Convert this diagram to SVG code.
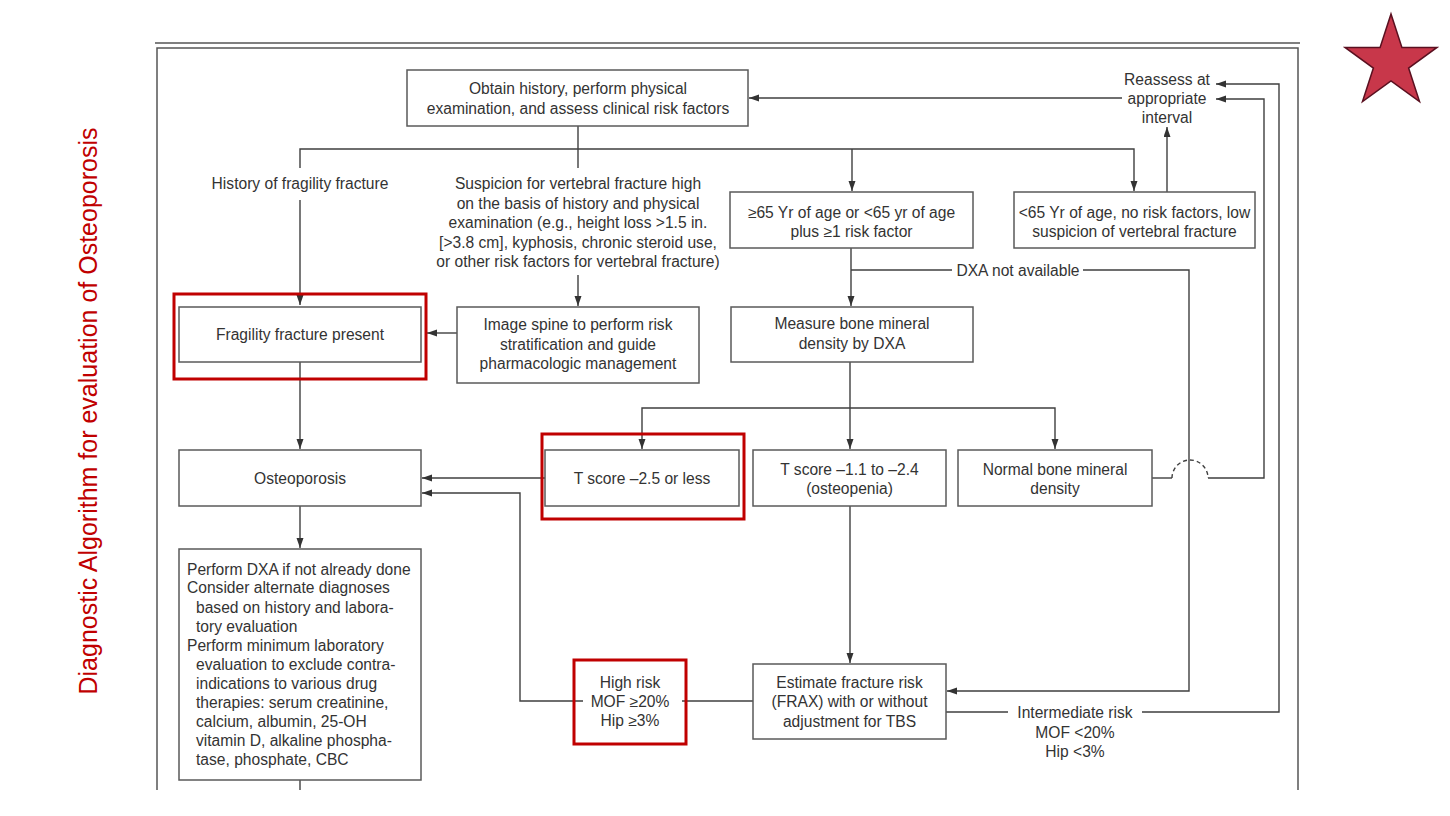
<svg xmlns="http://www.w3.org/2000/svg" width="1450" height="816" viewBox="0 0 1450 816">
<style>
text{font-family:"Liberation Sans",Arial,sans-serif;font-size:15.6px;fill:#333}
.c{text-anchor:middle}
.box{fill:#fff;stroke:#5a5a5a;stroke-width:1.5}
.red{fill:none;stroke:#C00000;stroke-width:3}
.ln{fill:none;stroke:#3f3f3f;stroke-width:1.4}
.arr{marker-end:url(#ah)}
.dash{stroke-dasharray:4 3}
.frame{fill:none;stroke:#555;stroke-width:1.5}
.title{font-size:25px;fill:#C00000}
</style>
<defs>
<marker id="ah" markerUnits="userSpaceOnUse" markerWidth="10" markerHeight="8" refX="10" refY="3.5" orient="auto">
<path d="M0,0 L10,3.5 L0,7 z" fill="#333"/>
</marker>
</defs>
<rect width="1450" height="816" fill="#fff"/>
<g id="title">
<text class="title c" transform="translate(97,411) rotate(-90)">Diagnostic Algorithm for evaluation of Osteoporosis</text>
</g>
<g id="star">
<polygon points="1391,14 1401.9,47.4 1437,47.4 1408.6,68.1 1419.5,101.6 1391,80.9 1362.5,101.6 1373.4,68.1 1345,47.4 1380.1,47.4" fill="#C8374A" stroke="#5a1020" stroke-width="1.5"/>
</g>
<g id="frame">
<path class="frame" d="M155,43 H1300"/>
<path class="frame" d="M157,790 V48 H1298 V790"/>
</g>
<g id="connectors">
<path class="ln arr" d="M1122,98 H749"/>
<path class="ln" d="M578,126 V168"/>
<path class="ln arr" d="M300,168 V149 H1134 V191"/>
<path class="ln arr" d="M852,149 V191"/>
<path class="ln arr" d="M300,200 V305"/>
<path class="ln arr" d="M578,275 V306"/>
<path class="ln arr" d="M457,333 H427"/>
<path class="ln arr" d="M300,362 V449"/>
<path class="ln arr" d="M300,506 V548"/>
<path class="ln" d="M300,780 V790"/>
<path class="ln arr" d="M1167,192 V127"/>
<path class="ln arr" d="M851,248 V306"/>
<path class="ln" d="M851,270 H952"/>
<path class="ln arr" d="M1083,270 H1189 V691 H947"/>
<path class="ln arr" d="M850,362 V449"/>
<path class="ln arr" d="M850,408 H642 V449"/>
<path class="ln arr" d="M850,408 H1055 V449"/>
<path class="ln arr" d="M545,478 H422"/>
<path class="ln arr" d="M583,701 H520 V493 H422"/>
<path class="ln" d="M682,701 H753"/>
<path class="ln arr" d="M850,506 V663"/>
<path class="ln" d="M1152,478 H1172"/>
<path class="ln dash" d="M1172,478 A18,18 0 0 1 1208,478"/>
<path class="ln arr" d="M1208,478 H1264 V99 H1216"/>
<path class="ln" d="M946,712 H1008"/>
<path class="ln arr" d="M1142,712 H1279 V84 H1216"/>
</g>
<g id="n-obtain">
<rect class="box" x="407" y="70" width="341" height="56"/>
<text class="c" x="578" y="93.5">Obtain history, perform physical</text>
<text class="c" x="578" y="113.5">examination, and assess clinical risk factors</text>
</g>
<g id="n-reassess">
<text class="c" x="1167" y="85">Reassess at</text>
<text class="c" x="1167" y="104">appropriate</text>
<text class="c" x="1167" y="123">interval</text>
</g>
<g id="l-history">
<text class="c" x="300" y="188.5">History of fragility fracture</text>
</g>
<g id="l-suspicion">
<text class="c" x="578" y="188.5">Suspicion for vertebral fracture high</text>
<text class="c" x="578" y="208.5">on the basis of history and physical</text>
<text class="c" x="578" y="227.5">examination (e.g., height loss &gt;1.5 in.</text>
<text class="c" x="578" y="247.5">[&gt;3.8 cm], kyphosis, chronic steroid use,</text>
<text class="c" x="578" y="266.5">or other risk factors for vertebral fracture)</text>
</g>
<g id="n-age65">
<rect class="box" x="730" y="192" width="243" height="56"/>
<text class="c" x="851.5" y="217.5">≥65 Yr of age or &lt;65 yr of age</text>
<text class="c" x="851.5" y="236.5">plus ≥1 risk factor</text>
</g>
<g id="n-low">
<rect class="box" x="1014" y="192" width="241" height="56"/>
<text class="c" x="1134.5" y="217.5">&lt;65 Yr of age, no risk factors, low</text>
<text class="c" x="1134.5" y="236.5">suspicion of vertebral fracture</text>
</g>
<g id="l-dxa">
<text class="c" x="1018" y="275.5">DXA not available</text>
</g>
<g id="n-fragility">
<rect class="box" x="179" y="307" width="242" height="55"/>
<rect class="red" x="174" y="294" width="252" height="85"/>
<text class="c" x="300" y="339.5">Fragility fracture present</text>
</g>
<g id="n-image">
<rect class="box" x="457" y="307" width="242" height="76"/>
<text class="c" x="578" y="329.5">Image spine to perform risk</text>
<text class="c" x="578" y="349.5">stratification and guide</text>
<text class="c" x="578" y="368.5">pharmacologic management</text>
</g>
<g id="n-measure">
<rect class="box" x="731" y="307" width="242" height="55"/>
<text class="c" x="852" y="329">Measure bone mineral</text>
<text class="c" x="852" y="348.5">density by DXA</text>
</g>
<g id="n-osteo">
<rect class="box" x="179" y="450" width="242" height="56"/>
<text class="c" x="300" y="483.5">Osteoporosis</text>
</g>
<g id="n-t25">
<rect class="box" x="545" y="450" width="194" height="56"/>
<rect class="red" x="542" y="434" width="202" height="85"/>
<text class="c" x="642" y="483.5">T score –2.5 or less</text>
</g>
<g id="n-t11">
<rect class="box" x="753" y="450" width="193" height="56"/>
<text class="c" x="849.5" y="474.5">T score –1.1 to –2.4</text>
<text class="c" x="849.5" y="493.5">(osteopenia)</text>
</g>
<g id="n-normal">
<rect class="box" x="958" y="450" width="194" height="56"/>
<text class="c" x="1055" y="474.5">Normal bone mineral</text>
<text class="c" x="1055" y="493.5">density</text>
</g>
<g id="n-workup">
<rect class="box" x="179" y="549" width="242" height="231"/>
<text x="187" y="574.5">Perform DXA if not already done</text>
<text x="187" y="593">Consider alternate diagnoses</text>
<text x="196" y="612.5">based on history and labora-</text>
<text x="196" y="631.5">tory evaluation</text>
<text x="187" y="650.5">Perform minimum laboratory</text>
<text x="196" y="669.5">evaluation to exclude contra-</text>
<text x="196" y="688.5">indications to various drug</text>
<text x="196" y="708">therapies: serum creatinine,</text>
<text x="196" y="727">calcium, albumin, 25-OH</text>
<text x="196" y="746">vitamin D, alkaline phospha-</text>
<text x="196" y="765">tase, phosphate, CBC</text>
</g>
<g id="n-high">
<rect class="red" x="574" y="660" width="112" height="84"/>
<text class="c" x="630" y="687.5">High risk</text>
<text class="c" x="630" y="706.5">MOF ≥20%</text>
<text class="c" x="630" y="726">Hip ≥3%</text>
</g>
<g id="n-frax">
<rect class="box" x="753" y="664" width="193" height="75"/>
<text class="c" x="849.5" y="687.5">Estimate fracture risk</text>
<text class="c" x="849.5" y="707">(FRAX) with or without</text>
<text class="c" x="849.5" y="726.5">adjustment for TBS</text>
</g>
<g id="l-intermediate">
<text class="c" x="1075" y="718">Intermediate risk</text>
<text class="c" x="1075" y="737.5">MOF &lt;20%</text>
<text class="c" x="1075" y="756.5">Hip &lt;3%</text>
</g>
</svg>
